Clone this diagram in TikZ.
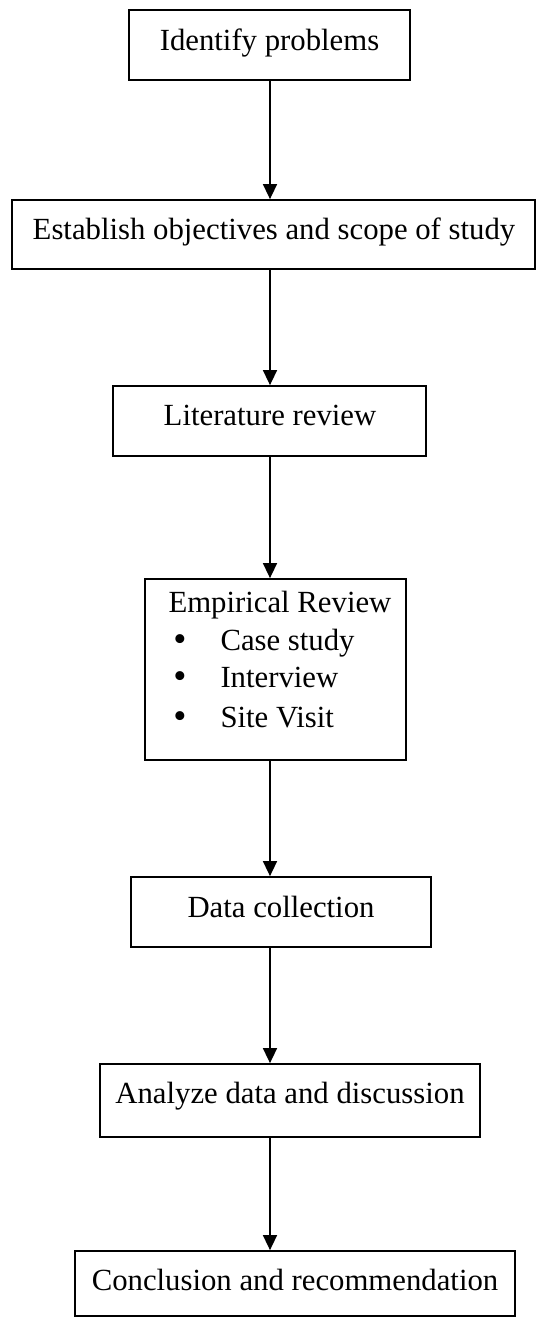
\documentclass[tikz,border=0pt]{standalone}
\usepackage{fontspec}
\setmainfont{Liberation Serif}
\usetikzlibrary{arrows.meta,fit}
\begin{document}
\begin{tikzpicture}[x=0.4pt,y=-0.4pt,
  box/.style={draw, line width=0.7pt, inner sep=0pt},
  txt/.style={anchor=base, inner sep=0pt, font=\fontsize{12.3}{14}\selectfont},
  dot/.style={anchor=base, inner sep=0pt, font=\fontsize{15}{16}\selectfont},
  arr/.style={line width=0.6pt, -{Triangle[width=5.6pt,length=6pt]}}]
\useasboundingbox (0,0) rectangle (536,1318);
\coordinate (ax) at (270,0);
% boxes
\node[box, fit={(129,10) (410,80)}] (b1) {};
\node[box, fit={(12,200) (535,269)}] (b2) {};
\node[box, fit={(113,386) (426,456)}] (b3) {};
\node[box, fit={(145,579) (406,760)}] (b4) {};
\node[box, fit={(131,877) (431,947)}] (b5) {};
\node[box, fit={(100,1064) (480,1137)}] (b6) {};
\node[box, fit={(75,1251) (515,1316)}] (b7) {};
% texts
\node[txt] (t1) at (269.5,51) {Identify problems};
\node[txt] (t2) at (274,240) {Establish objectives and scope of study};
\node[txt] (t3) at (270,425) {Literature review};
\node[txt, anchor=base west] (t4) at (168,612) {Empirical Review};
\node[dot] (d1) at (180,651) {\textbullet};
\node[dot] (d2) at (180,688) {\textbullet};
\node[dot] (d3) at (180,728) {\textbullet};
\node[txt, anchor=base west] (i1) at (220,650) {Case study};
\node[txt, anchor=base west] (i2) at (220,687) {Interview};
\node[txt, anchor=base west] (i3) at (220,727) {Site Visit};
\node[txt] (t5) at (281,917) {Data collection};
\node[txt] (t6) at (290,1103) {Analyze data and discussion};
\node[txt] (t7) at (295,1290) {Conclusion and recommendation};
% arrows
\draw[arr] (b1.south -| ax) -- (b2.north -| ax);
\draw[arr] (b2.south -| ax) -- (b3.north -| ax);
\draw[arr] (b3.south -| ax) -- (b4.north -| ax);
\draw[arr] (b4.south -| ax) -- (b5.north -| ax);
\draw[arr] (b5.south -| ax) -- (b6.north -| ax);
\draw[arr] (b6.south -| ax) -- (b7.north -| ax);
\end{tikzpicture}
\end{document}
